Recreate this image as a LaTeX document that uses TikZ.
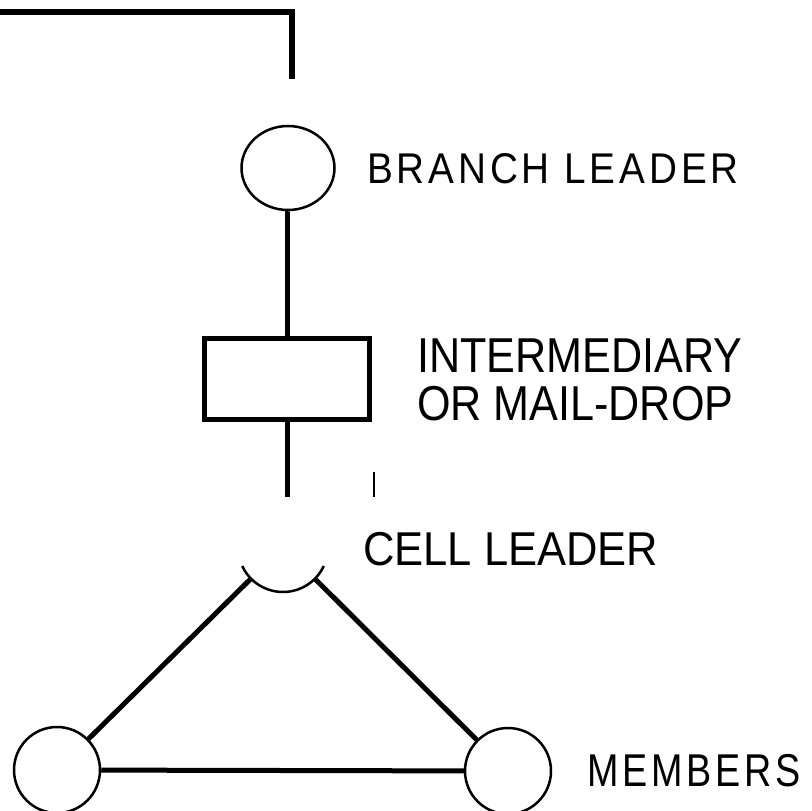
\documentclass[tikz,border=0pt]{standalone}
\usepackage{fontspec}
\setmainfont{Liberation Sans}
\newfontfamily\spacedfont[LetterSpace=10]{Liberation Sans}
\usetikzlibrary{shapes.geometric}
\begin{document}
\begin{tikzpicture}[x=1pt,y=1pt,
  thick line/.style={line width=5pt},
  thin ring/.style={line width=2.5pt},
  ring/.style={circle,draw,thin ring,minimum size=86pt,inner sep=0pt},
  label text/.style={anchor=base west,inner sep=0pt,text=black},
]
\useasboundingbox (0,0) rectangle (812,-811);
% top bracket
\coordinate (tl) at (0,-12);
\coordinate (tc) at (292,-12);
\coordinate (te) at (292,-79);
\draw[line width=6pt] (tl) -- (tc) -- (te);
% branch leader
\node[ellipse,draw,thin ring,minimum width=93pt,minimum height=84pt,inner sep=0pt] (branch) at (288,-168) {};
\node[label text] (tbranch) at (367,-183) {\spacedfont\fontsize{43}{43}\selectfont\scalebox{0.9}[1]{BRANCH LEADER}};
% intermediary
\node[draw,thick line,minimum width=165pt,minimum height=81pt,inner sep=0pt] (rect) at (287,-379) {};
\node[label text] (tinter) at (417,-372) {\fontsize{49}{49}\selectfont\scalebox{0.88}[1]{INTERMEDIARY}};
\node[label text] (tmail) at (417,-420) {\fontsize{49}{49}\selectfont\scalebox{0.88}[1]{OR MAIL-DROP}};
\draw[thick line] (branch.south) -- (branch.south -| rect.north) -- (rect.north);
\coordinate (cend) at (287,-497);
\draw[thick line] (rect.south) -- (cend);
\coordinate (mk1) at (374,-472);
\coordinate (mk2) at (374,-497);
\draw[line width=1.5pt] (mk1) -- (mk2);
% cell leader
\node[circle,minimum size=92pt,inner sep=0pt] (cell) at (283,-547) {};
\draw[thin ring] (cell.center) ++(205:45) arc[start angle=205,end angle=335,radius=45];
\node[label text] (tcell) at (363,-565) {\fontsize{47.5}{47.5}\selectfont\scalebox{0.916}[1]{CELL LEADER}};
% members
\node[ring] (m1) at (57,-770) {};
\node[ring] (m2) at (508,-771) {};
\node[label text] (tmem) at (587,-786) {\spacedfont\fontsize{46}{46}\selectfont\scalebox{0.82}[1]{MEMBERS}};
\draw[thick line] (cell) -- (m1);
\draw[thick line] (cell) -- (m2);
\draw[thick line] (m1) -- (m2);
\end{tikzpicture}
\end{document}
